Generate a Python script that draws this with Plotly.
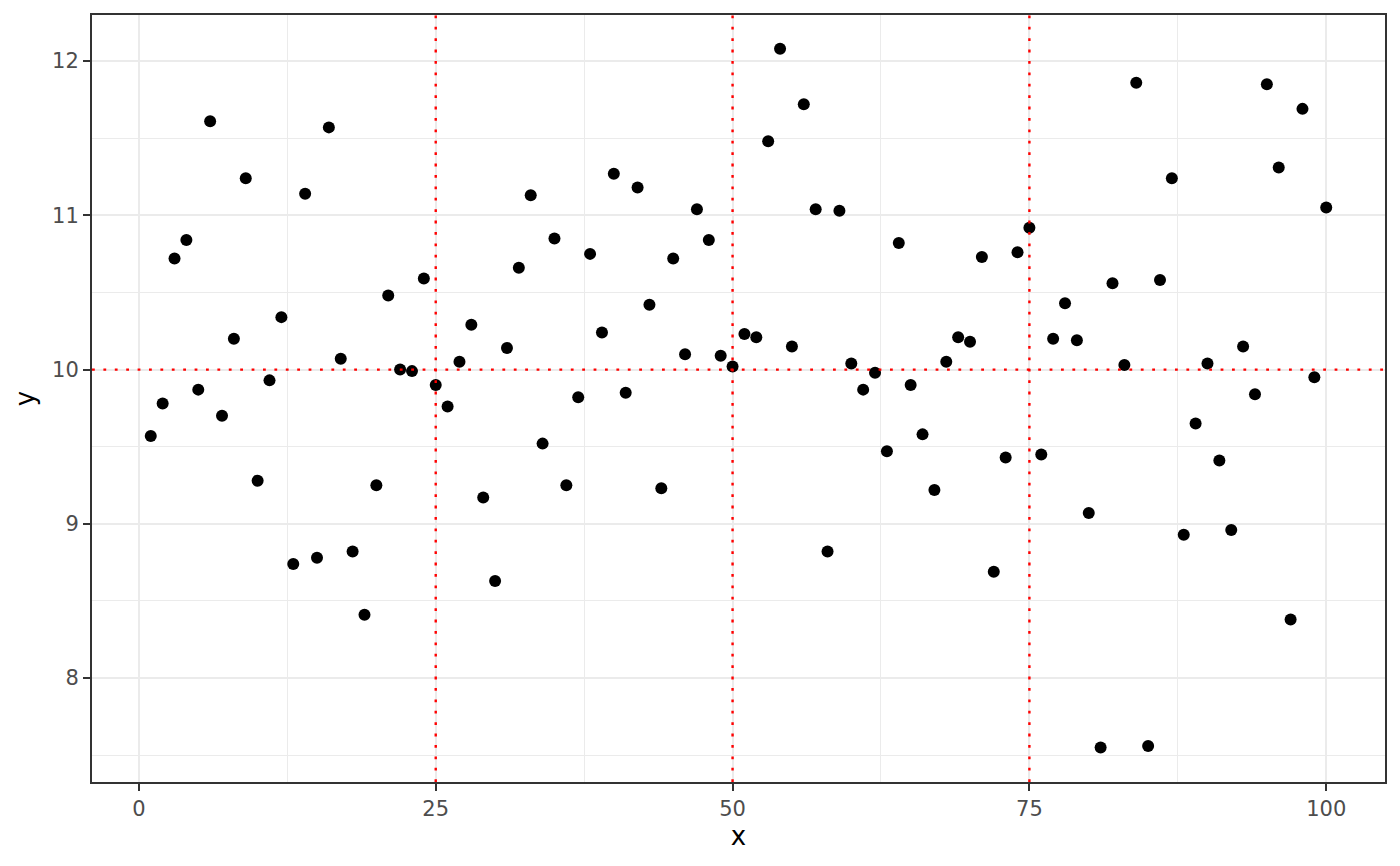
import plotly.graph_objects as go

x_vals = list(range(1, 101))
y_vals = [
    9.57, 9.78, 10.72, 10.84, 9.87, 11.61, 9.70, 10.20, 11.24, 9.28,
    9.93, 10.34, 8.74, 11.14, 8.78, 11.57, 10.07, 8.82, 8.41, 9.25,
    10.48, 10.00, 9.99, 10.59, 9.90, 9.76, 10.05, 10.29, 9.17, 8.63,
    10.14, 10.66, 11.13, 9.52, 10.85, 9.25, 9.82, 10.75, 10.24, 11.27,
    9.85, 11.18, 10.42, 9.23, 10.72, 10.10, 11.04, 10.84, 10.09, 10.02,
    10.23, 10.21, 11.48, 12.08, 10.15, 11.72, 11.04, 8.82, 11.03, 10.04,
    9.87, 9.98, 9.47, 10.82, 9.90, 9.58, 9.22, 10.05, 10.21, 10.18,
    10.73, 8.69, 9.43, 10.76, 10.92, 9.45, 10.20, 10.43, 10.19, 9.07,
    7.55, 10.56, 10.03, 11.86, 7.56, 10.58, 11.24, 8.93, 9.65, 10.04,
    9.41, 8.96, 10.15, 9.84, 11.85, 11.31, 8.38, 11.69, 9.95, 11.05,
]
vline_x = [25, 50, 75]
hline_y = 10
x_ticks = [0, 25, 50, 75, 100]
x_minor = [12.5, 37.5, 62.5, 87.5]
y_ticks = [8, 9, 10, 11, 12]
y_minor = [7.5, 8.5, 9.5, 10.5, 11.5]

FONT = "DejaVu Sans"
GRID = "#EBEBEB"
DOT = "2.8px,8.6px"

fig = go.Figure()
fig.add_trace(go.Scatter(
    x=x_vals, y=y_vals, mode="markers",
    marker=dict(color="black", size=12, line=dict(width=0)),
    showlegend=False, hoverinfo="x+y",
))

for v in vline_x:
    fig.add_shape(type="line", xref="x", yref="paper", x0=v, x1=v, y0=0, y1=1,
                  line=dict(color="#FF0000", width=2.4, dash=DOT), layer="above")
fig.add_shape(type="line", xref="paper", yref="y", x0=0, x1=1, y0=hline_y, y1=hline_y,
              line=dict(color="#FF0000", width=2.4, dash=DOT), layer="above")

axis_common = dict(
    showgrid=True, gridcolor=GRID, gridwidth=2.4,
    zeroline=False, showline=True, linecolor="#333333", linewidth=2, mirror=True,
    ticks="outside", ticklen=7, tickcolor="#333333", tickwidth=2,
    tickfont=dict(family=FONT, size=21, color="#4D4D4D"),
)

fig.update_xaxes(
    range=[-3.95, 104.95], tickvals=x_ticks, ticktext=[str(t) for t in x_ticks],
    minor=dict(tickvals=x_minor, showgrid=True, gridcolor=GRID, gridwidth=1.2, ticks=""),
    title=dict(text="x", font=dict(family=FONT, size=26, color="black"), standoff=7),
    **axis_common,
)
fig.update_yaxes(
    range=[7.3265, 12.2985], tickvals=y_ticks, ticktext=[str(t) for t in y_ticks],
    minor=dict(tickvals=y_minor, showgrid=True, gridcolor=GRID, gridwidth=1.2, ticks=""),
    title=dict(text="y", font=dict(family=FONT, size=26, color="black"), standoff=10),
    **axis_common,
)

fig.update_layout(
    width=1400, height=866,
    margin=dict(l=92, r=15, t=15, b=84),
    plot_bgcolor="white", paper_bgcolor="white",
    showlegend=False,
)

fig.write_html(
    "out.html",
    config={"displayModeBar": False},
    post_script="document.body.style.margin='0';document.body.style.overflow='hidden';",
)
